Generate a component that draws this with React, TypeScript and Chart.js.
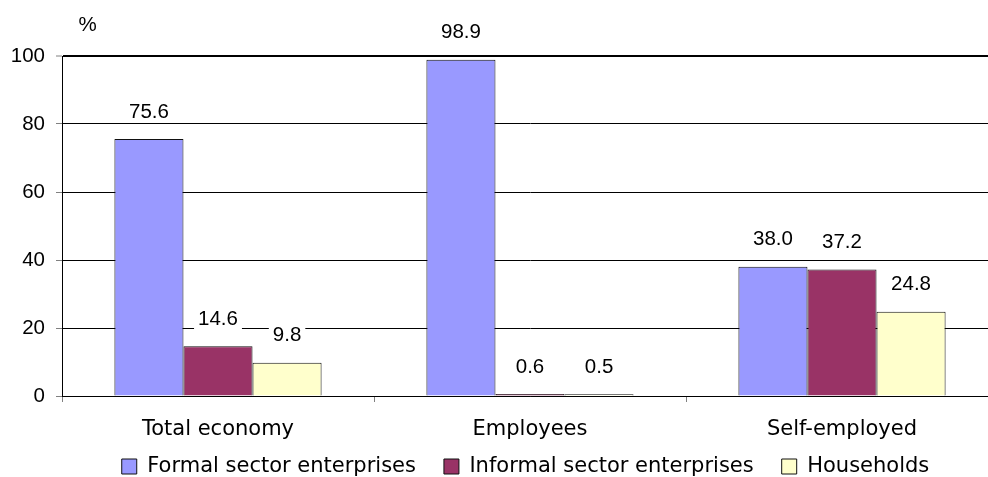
import React, { useEffect, useRef } from "react";
import { Chart, registerables } from "chart.js";

Chart.register(...registerables);

const categories = ["Total economy", "Employees", "Self-employed"];
const seriesNames = ["Formal sector enterprises", "Informal sector enterprises", "Households"];
const formal = [75.6, 98.9, 38.0];
const informal = [14.6, 0.6, 37.2];
const households = [9.8, 0.5, 24.8];
const yTicks = [0, 20, 40, 60, 80, 100];
const unitLabel = "%";

const seriesColors = ["#9999FF", "#993366", "#FFFFCC"];

const NUM_FONT = '"Liberation Sans", Arial, sans-serif';
const TXT_FONT = '"DejaVu Sans", sans-serif';
const NUM_SIZE = 20.5;

const labelPlugin = {
  id: "valueLabels",
  afterLayout(chart: any) {
    // let axis labels draw outside the compact scale boxes
    const ys = chart.scales.y;
    const xs = chart.scales.x;
    if (ys) ys.left = 0;
    if (xs) xs.bottom = chart.height;
  },
  afterDatasetsDraw(chart: any) {
    const ctx = chart.ctx;
    ctx.save();
    ctx.font = `${NUM_SIZE}px ${NUM_FONT}`;
    ctx.textAlign = "center";
    ctx.textBaseline = "middle";
    chart.data.datasets.forEach((ds: any, i: number) => {
      const meta = chart.getDatasetMeta(i);
      meta.data.forEach((el: any, j: number) => {
        const v = ds.data[j] as number;
        const txt = v.toFixed(1);
        const x = el.x;
        const y = el.y - 27;
        const w = ctx.measureText(txt).width;
        ctx.fillStyle = "#ffffff";
        ctx.fillRect(x - w / 2 - 4, y - 15, w + 8, 25);
        ctx.fillStyle = "#000000";
        ctx.fillText(txt, x, y);
      });
    });
    ctx.restore();
  },
  afterDraw(chart: any) {
    const { ctx, chartArea } = chart;
    ctx.save();
    ctx.font = `${NUM_SIZE}px ${NUM_FONT}`;
    ctx.fillStyle = "#000000";
    ctx.textAlign = "center";
    ctx.textBaseline = "middle";
    ctx.fillText(unitLabel, chartArea.left + 25.5, chartArea.top - 30.5);
    ctx.restore();
  },
};

export default function App() {
  const ref = useRef<HTMLCanvasElement | null>(null);

  useEffect(() => {
    if (!ref.current) return;
    const seriesData = [formal, informal, households];
    const chart = new Chart(ref.current, {
      type: "bar",
      data: {
        labels: categories,
        datasets: seriesNames.map((name, i) => ({
          label: name,
          data: seriesData[i],
          backgroundColor: seriesColors[i],
          borderColor: "#111111",
          borderWidth: 1,
          categoryPercentage: 0.664,
          barPercentage: 1,
        })),
      },
      options: {
        responsive: false,
        maintainAspectRatio: false,
        devicePixelRatio: 1,
        animation: false,
        layout: { padding: { left: 53, right: 2, top: 56, bottom: 0 } },
        plugins: {
          legend: {
            position: "bottom",
            align: "center",
            labels: {
              boxWidth: 15,
              boxHeight: 15,
              padding: 28,
              color: "#000",
              font: { family: TXT_FONT, size: 21 },
            },
          },
          tooltip: { enabled: false },
          title: { display: false },
        },
        scales: {
          x: {
            ticks: {
              color: "#000",
              font: { family: TXT_FONT, size: 21 },
              padding: 15,
              maxRotation: 0,
              autoSkip: false,
            },
            grid: {
              offset: true,
              drawOnChartArea: false,
              drawTicks: true,
              tickLength: 6,
              color: "#808080",
              tickColor: "#808080",
            },
            border: { display: true, color: "#000", width: 1 },
            afterFit: (s: any) => {
              s.height = 32;
            },
          },
          y: {
            min: 0,
            max: 100,
            ticks: {
              color: "#000",
              font: { family: NUM_FONT, size: NUM_SIZE },
              padding: 11,
            },
            afterBuildTicks: (s: any) => {
              s.ticks = yTicks.map((v) => ({ value: v }));
            },
            grid: {
              color: "#000",
              lineWidth: (c: any) => (c.tick && c.tick.value === 100 ? 2 : 1),
              tickLength: 6,
              tickColor: "#808080",
              tickWidth: 1,
              drawTicks: true,
            },
            border: { display: true, color: "#000", width: 1 },
            afterFit: (s: any) => {
              s.width = 9;
            },
          },
        },
      },
      plugins: [labelPlugin],
    } as any);
    return () => chart.destroy();
  }, []);

  return (
    <div
      style={{
        position: "absolute",
        left: 0,
        top: 0,
        width: 988,
        height: 477,
        overflow: "hidden",
        background: "#fff",
      }}
    >
      <canvas ref={ref} width={1000} height={487} style={{ display: "block", width: 1000, height: 487 }} />
    </div>
  );
}
